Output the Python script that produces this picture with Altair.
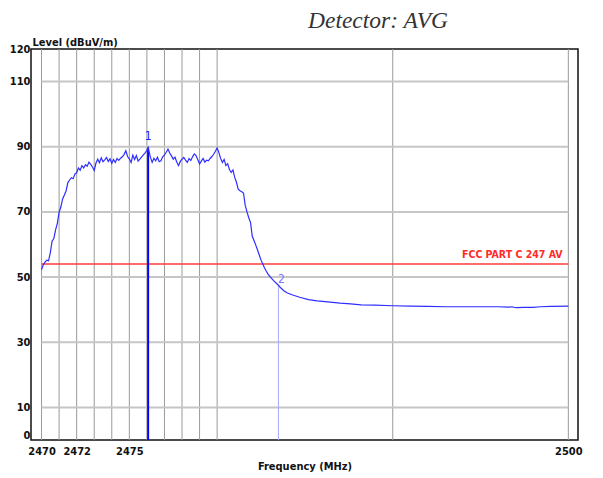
import altair as alt
import pandas as pd

# ---- data ----
freqs = [
    2470.0, 2470.1, 2470.2, 2470.3, 2470.4, 2470.5, 2470.6, 2470.7, 2470.8, 2470.9,
    2471.0, 2471.1, 2471.2, 2471.3, 2471.4, 2471.5, 2471.6, 2471.7, 2471.8, 2471.9,
    2472.0, 2472.1, 2472.2, 2472.3, 2472.4, 2472.5, 2472.6, 2472.7, 2472.8, 2472.9,
    2473.0, 2473.1, 2473.2, 2473.3, 2473.4, 2473.5, 2473.6, 2473.7, 2473.8, 2473.9,
    2474.0, 2474.1, 2474.2, 2474.3, 2474.4, 2474.5, 2474.6, 2474.7, 2474.8, 2474.9,
    2475.0, 2475.1, 2475.2, 2475.3, 2475.4, 2475.5, 2475.6, 2475.7, 2475.8, 2475.9,
    2476.0, 2476.07, 2476.2, 2476.3, 2476.4, 2476.5, 2476.6, 2476.7, 2476.8, 2476.9,
    2477.0, 2477.1, 2477.2, 2477.3, 2477.4, 2477.5, 2477.6, 2477.7, 2477.8, 2477.9,
    2478.0, 2478.1, 2478.2, 2478.3, 2478.4, 2478.5, 2478.6, 2478.7, 2478.8, 2478.9,
    2479.0, 2479.1, 2479.2, 2479.3, 2479.4, 2479.5, 2479.6, 2479.7, 2479.8, 2479.9,
    2480.0, 2480.1, 2480.2, 2480.3, 2480.4, 2480.5, 2480.6, 2480.7, 2480.8, 2480.9,
    2481.0, 2481.1, 2481.2, 2481.3, 2481.4, 2481.5, 2481.6, 2481.7, 2481.8, 2481.9,
    2482.0, 2482.1, 2482.2, 2482.3, 2482.4, 2482.5, 2482.6, 2482.7, 2482.8, 2482.9,
    2483.0, 2483.2, 2483.49, 2483.6, 2483.8, 2484.0, 2484.3, 2484.7, 2485.2, 2485.7,
    2486.3, 2487.0, 2487.6, 2488.2, 2489.0, 2490.0, 2491.0, 2492.0, 2493.0, 2494.0,
    2495.0, 2496.0, 2496.6, 2496.8, 2497.0, 2497.5, 2498.0, 2498.4, 2499.0, 2500.0,
]
levels = [
    52.3, 53.8, 54.6, 55.2, 55.0, 57.5, 61.0, 61.8, 64.5, 66.5,
    69.9, 71.5, 74.0, 75.2, 76.5, 79.0, 79.8, 80.5, 80.2, 81.6,
    82.0, 83.5, 82.8, 84.2, 83.5, 84.5, 84.0, 85.3, 84.6, 83.8,
    82.7, 85.0, 86.2, 85.1, 86.6, 85.4, 86.0, 86.7, 85.5, 86.3,
    84.9, 86.1, 85.2, 86.4, 85.8, 86.5, 86.9, 87.6, 88.8, 87.0,
    86.3, 85.2, 87.4, 86.1, 87.3, 85.6, 86.2, 86.9, 87.5, 88.1,
    88.9, 89.8, 86.8, 85.2, 86.5, 85.7, 86.8, 85.4, 85.7, 86.9,
    87.5, 88.3, 89.3, 88.1, 87.2, 86.2, 86.8, 85.3, 84.2, 85.5,
    86.2, 86.7, 85.9, 85.2, 86.4, 85.8, 86.9, 87.8, 87.3, 86.0,
    84.7, 85.6, 86.4, 85.3, 85.9, 85.7, 86.4, 87.0, 87.7, 88.6,
    89.6, 88.2, 86.4, 85.2, 86.1, 84.2, 84.8, 83.0, 82.1, 82.9,
    80.6, 79.1, 77.0, 76.5, 76.2, 75.8, 72.0, 70.0, 68.2, 66.8,
    62.5, 61.2, 59.8, 58.3, 56.8, 55.2, 54.0, 52.8, 51.8, 50.9,
    50.2, 49.0, 47.5, 46.8, 45.8, 45.1, 44.5, 43.8, 43.1, 42.7,
    42.4, 42.0, 41.8, 41.5, 41.4, 41.2, 41.1, 41.0, 40.9, 40.9,
    40.9, 40.9, 40.8, 40.9, 40.6, 40.7, 40.7, 40.9, 41.0, 41.1,
]

grid_x = [2470, 2471, 2472, 2473, 2474, 2475, 2476, 2477, 2478, 2479, 2480, 2490, 2500]
grid_y = [10, 30, 50, 70, 90, 110]
x_ticks = [2470, 2472, 2475, 2500]
y_ticks = [0, 10, 30, 50, 70, 90, 110, 120]
limit_level = 54
limit_label = "FCC PART C 247 AV"
marker_freqs = [2476.07, 2483.49]
marker_levels = [89.8, 47.5]
marker_labels = ["1", "2"]

FONT = "Liberation Sans Narrow, DejaVu Sans Condensed, Liberation Sans, Arial"

x_scale = alt.Scale(domain=[2469.4, 2500.55], nice=False, zero=False)
y_scale = alt.Scale(domain=[0, 120], nice=False, zero=False)

x_axis = alt.Axis(
    values=x_ticks, title="Frequency (MHz)", format="d", grid=False,
    ticks=False, domain=False, labelPadding=5,
    titleY=26, titleBaseline="middle",
)
y_axis = alt.Axis(
    values=y_ticks, title="Level (dBuV/m)", grid=False, ticks=False,
    domain=False, labelPadding=1, titleAngle=0, titleAlign="left",
    titleX=1, titleY=-7, titleBaseline="middle",
    labelBaseline={"condition": {"test": "datum.value == 0", "value": "bottom"}, "value": "middle"},
)

trace_df = pd.DataFrame({"f": freqs, "v": levels})
gx_df = pd.DataFrame({"f": grid_x})
gy_df = pd.DataFrame({"v": grid_y, "x0": grid_x[0], "x1": grid_x[-1]})
lim_df = pd.DataFrame({"v": [limit_level], "x0": [grid_x[0]], "x1": [grid_x[-1]],
                       "lab": [limit_label], "xl": [2499.67]})
m1_df = pd.DataFrame({"f": [marker_freqs[0]], "v": [marker_levels[0]], "b": [0], "lab": [marker_labels[0]]})
m2_df = pd.DataFrame({"f": [marker_freqs[1]], "v": [marker_levels[1]], "b": [0], "lab": [marker_labels[1]]})

X = lambda fld: alt.X(fld, scale=x_scale, axis=x_axis)
Y = lambda fld: alt.Y(fld, scale=y_scale, axis=y_axis)

vgrid = alt.Chart(gx_df).mark_rule(color="#9a9a9a", strokeWidth=1).encode(
    x=X("f:Q")
)
hgrid = alt.Chart(gy_df).mark_rule(color="#c6c6c6", strokeWidth=2).encode(
    y=Y("v:Q"), x=X("x0:Q"), x2="x1:Q",
)
limit = alt.Chart(lim_df).mark_rule(color="#ff3b3b", strokeWidth=1.6).encode(
    y=Y("v:Q"), x=X("x0:Q"), x2="x1:Q",
)
limit_text = alt.Chart(lim_df).mark_text(
    align="right", baseline="middle", dy=-9, color="#ff2a2a",
    font=FONT, fontSize=10.5, fontWeight="bold",
).encode(x=X("xl:Q"), y=Y("v:Q"), text="lab:N")
m1_rule = alt.Chart(m1_df).mark_rule(color="#0000ff", strokeWidth=2).encode(
    x=X("f:Q"), y=Y("b:Q"), y2="v:Q",
)
m2_rule = alt.Chart(m2_df).mark_rule(color="#a8a8ff", strokeWidth=1).encode(
    x=X("f:Q"), y=Y("b:Q"), y2="v:Q",
)
trace = alt.Chart(trace_df).mark_line(color="#2e2eff", strokeWidth=1.2).encode(
    x=X("f:Q"), y=Y("v:Q"),
)
m1_text = alt.Chart(m1_df).mark_text(
    color="#2020ff", font=FONT, fontSize=12, dy=-11, baseline="middle"
).encode(x=X("f:Q"), y=Y("v:Q"), text="lab:N")
m2_text = alt.Chart(m2_df).mark_text(
    color="#7a7aff", font=FONT, fontSize=12, dx=3, dy=-6, baseline="middle"
).encode(x=X("f:Q"), y=Y("v:Q"), text="lab:N")
detector = alt.Chart(pd.DataFrame({"t": ["Detector: AVG"]})).mark_text(
    align="left", baseline="middle", font="Liberation Serif, Times New Roman, serif",
    fontStyle="italic", fontSize=23.5, color="#333333",
).encode(text="t:N", x=alt.value(277), y=alt.value(-28))

chart = alt.layer(
    vgrid, hgrid, limit, m2_rule, m1_rule, trace, limit_text, m1_text, m2_text, detector
).properties(
    width=547, height=391,
    autosize=alt.AutoSizeParams(type="none"),
    padding={"left": 23, "top": 41, "right": 17, "bottom": 34},
).configure_view(
    stroke="#111111", strokeWidth=1.5
).configure_axis(
    labelFont=FONT, labelFontSize=11, labelFontWeight="bold", labelColor="#111111",
    titleFont=FONT, titleFontSize=11, titleFontWeight="bold", titleColor="#111111",
)

chart.save("out.html", embed_options={"renderer": "svg", "actions": False})
